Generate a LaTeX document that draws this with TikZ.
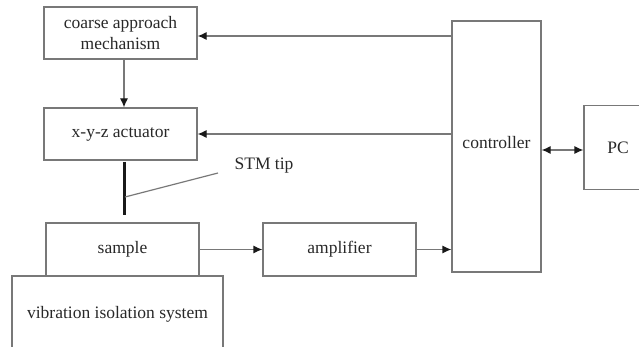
\documentclass[tikz,border=0pt]{standalone}
\usepackage{fontspec}
\setmainfont{Liberation Serif}
\usetikzlibrary{arrows,arrows.meta}
\usetikzlibrary{calc}
\definecolor{rahmen}{RGB}{120,120,120}
\definecolor{schrift}{RGB}{40,40,40}
\definecolor{spitze}{RGB}{25,25,25}

\begin{document}
\begin{tikzpicture}[x=1pt, y=-1pt,
    block/.style={draw=rahmen, line width=1.2pt, text=schrift, inner sep=0pt, align=center,
        font=\fontsize{17.5}{21}\selectfont},
    pfeil/.style={draw=rahmen, line width=1.2pt, -{Latex[length=9pt,width=8pt,spitze]}},
    doppelpfeil/.style={draw=rahmen, line width=1.2pt, {Latex[length=9pt,width=8pt,spitze]}-{Latex[length=9pt,width=8pt,spitze]}}]

    \useasboundingbox (0,0) rectangle (639,347);

    \node[block, minimum width=153pt, minimum height=52pt] (coarse) at (120.5,33) {coarse approach\\mechanism};
    \node[block, minimum width=153pt, minimum height=52pt] (actuator) at (120.5,134) {x-y-z actuator};
    \node[block, minimum width=153pt, minimum height=53pt] (sample) at (122.5,249.5) {sample};
    \node[block, minimum width=211pt, minimum height=76pt] (vibration) at (117.5,314) {vibration isolation system};
    \node[block, minimum width=153pt, minimum height=53pt] (amplifier) at (339.5,249.5) {amplifier};
    \node[block, minimum width=89pt, minimum height=251pt] (controller) at (496.5,146.5) {};
    \node[text=schrift, font=\fontsize{17.5}{21}\selectfont, inner sep=0pt] (controllertext) at (496.5,143) {controller};
    \node[block, minimum width=80pt, minimum height=84pt] (pc) at (624,147.5) {};
    \node[text=schrift, font=\fontsize{17.5}{21}\selectfont, inner sep=0pt] (pctext) at (618,148) {PC};

    % STM tip
    \coordinate (tipoben) at (124,162);
    \coordinate (tipunten) at (124,215);
    \coordinate (tipmitte) at (125,197);
    \coordinate (tipende) at (218,173);
    \node[text=schrift, font=\fontsize{17.5}{21}\selectfont, inner sep=0pt] (stmlabel) at (264,166) {STM tip};
    \draw[spitze, line width=3pt] (tipoben) -- (tipunten);
    \draw[rahmen, line width=1.2pt] (tipmitte) -- (tipende);

    \draw[pfeil] (controller.west |- 0,36) -- (coarse.east |- 0,36);
    \draw[pfeil] (controller.west |- actuator.east) -- (actuator.east);
    \draw[pfeil] (coarse.south -| 124,0) -- (actuator.north -| 124,0);
    \draw[pfeil] (sample.east) -- (amplifier.west);
    \draw[pfeil] (amplifier.east) -- (amplifier.east -| controller.west);
    \draw[doppelpfeil] (controller.east |- 0,150) -- (pc.west |- 0,150);

\end{tikzpicture}
\end{document}
